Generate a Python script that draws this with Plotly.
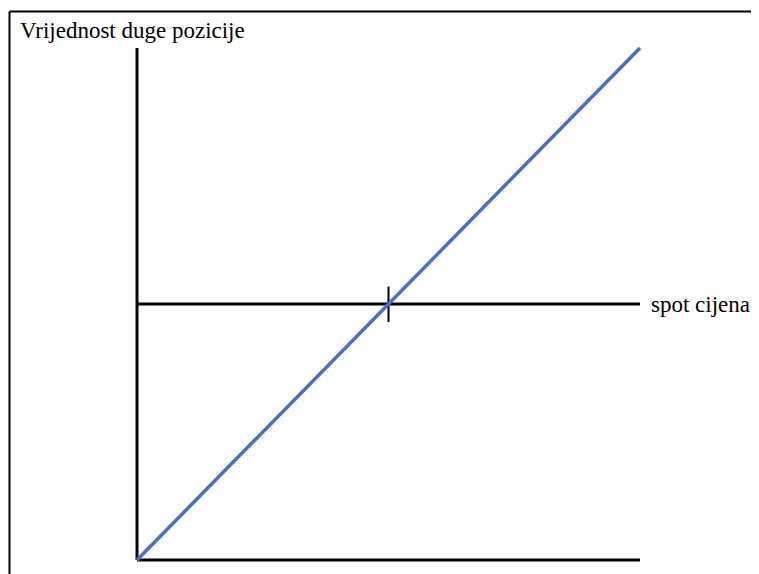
# ================================
# Importando Bibliotecas
# ================================
import plotly.graph_objects as go

# ================================
# Dados
# ================================
spot_cijena = [0, 10]
vrijednost = [-1, 1]
tocka_x = [5]
tocka_y = [0]
y_naslov = 'Vrijednost duge pozicije'
x_naslov = 'spot cijena'

# ================================
# Gráfico
# ================================
fig = go.Figure()

crno = 'black'
linija = dict(color=crno, width=3)
# os y
fig.add_trace(go.Scatter(x=[0, 0], y=[-1, 1], mode='lines', line=linija, hoverinfo='skip'))
# donja os
fig.add_trace(go.Scatter(x=[0, 10], y=[-1, -1], mode='lines', line=linija, hoverinfo='skip'))
# spot cijena os
fig.add_trace(go.Scatter(x=[0, 10], y=[0, 0], mode='lines', line=linija, hoverinfo='skip'))
# oznaka
fig.add_trace(go.Scatter(x=[tocka_x[0], tocka_x[0]], y=[tocka_y[0] - 0.07, tocka_y[0] + 0.068],
                         mode='lines', line=dict(color=crno, width=2), hoverinfo='skip'))
# duga pozicija
fig.add_trace(go.Scatter(x=spot_cijena, y=vrijednost, mode='lines',
                         line=dict(color='#4472C4', width=3.5), hoverinfo='skip'))

font = dict(family='Liberation Serif, Times New Roman, serif', size=23, color='black')

fig.add_annotation(text=y_naslov, xref='x', yref='y', x=-2.36, y=1.07,
                   xanchor='left', yanchor='middle', showarrow=False, font=font)
fig.add_annotation(text=x_naslov, xref='x', yref='y', x=10, y=0, xshift=9,
                   xanchor='left', yanchor='middle', showarrow=False, font=font)

# okvir (gore i lijevo)
fig.add_shape(type='line', xref='x', yref='y', x0=-2.535, x1=13,
              y0=1.1426, y1=1.1426, line=dict(color=crno, width=2))
fig.add_shape(type='line', xref='x', yref='y', x0=-2.535, x1=-2.535,
              y0=1.1426, y1=-1.2, line=dict(color=crno, width=2))

# stranica ima 8px margine, pa je slika manja
fig.update_layout(
    width=751, height=566,
    margin=dict(l=0, r=0, t=0, b=0),
    paper_bgcolor='white', plot_bgcolor='white',
    showlegend=False,
    xaxis=dict(range=[-2.5646, 12.3658], visible=False),
    yaxis=dict(range=[-1.0547, 1.15625], visible=False),
)

fig.write_html('out.html')
